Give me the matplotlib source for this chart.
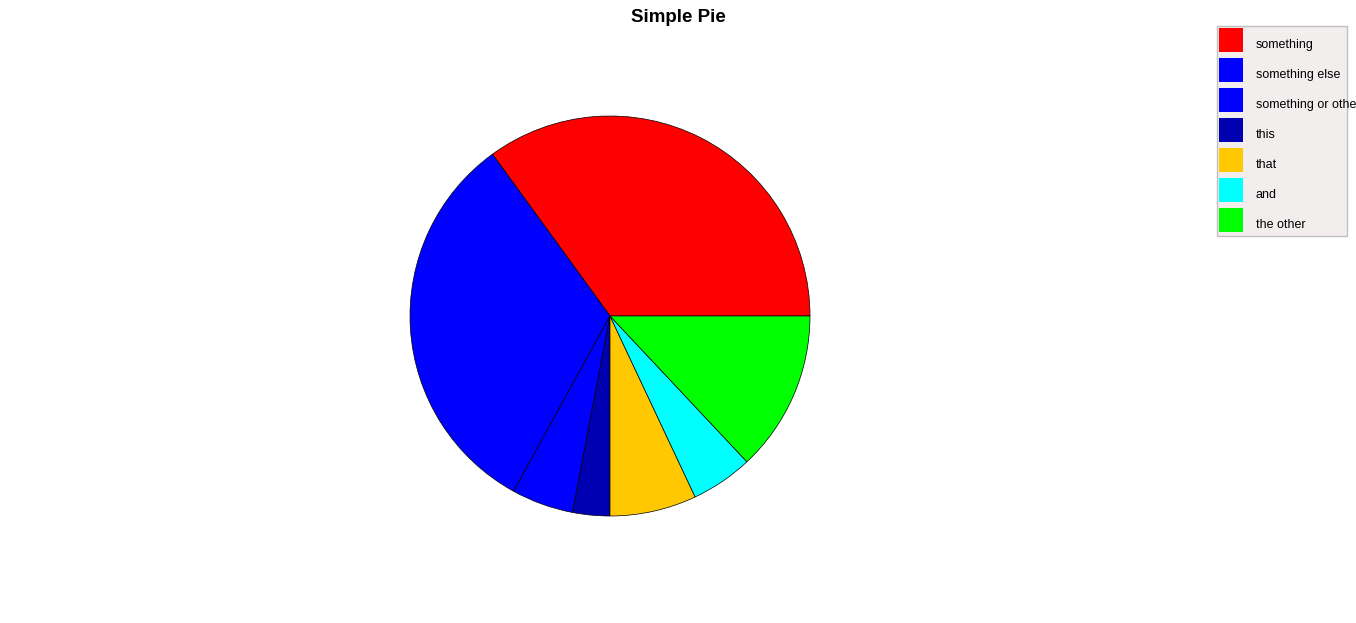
import matplotlib
matplotlib.use("Agg")
import matplotlib.pyplot as plt
from matplotlib.patches import Patch, Rectangle
from matplotlib.legend_handler import HandlerPatch

plt.rcParams["font.family"] = ["Liberation Sans", "DejaVu Sans"]

labels = ["something", "something else", "something or other", "this", "that", "and", "the other"]
values = [35, 32, 5, 3, 7, 5, 13]
colors = ["#FF0000", "#0000FF", "#0000FF", "#0000B2", "#FFC800", "#00FFFF", "#00FF00"]

W, H = 1356, 623
fig = plt.figure(figsize=(W / 100, H / 100), dpi=100)

# square axes holding the pie, centre (610, 316) px, radius 200 px
cx, cy, r = 610, 316, 200
ax = fig.add_axes([(cx - r) / W, (H - cy - r) / H, 2 * r / W, 2 * r / H])
ax.pie(values, colors=colors, startangle=0, counterclock=True, radius=1,
       wedgeprops=dict(edgecolor="black", linewidth=0.5))
ax.set_xlim(-1, 1)
ax.set_ylim(-1, 1)
ax.axis("off")

fig.text(678 / W, 1 - 17 / H, "Simple Pie", ha="center", va="center",
         fontsize=13.5, fontweight="bold")

# legend frame (narrower than the longest label, as in the original)
fig.patches.append(Rectangle((1216.5 / W, 1 - 235.5 / H), 130 / W, 210 / H,
                             transform=fig.transFigure, facecolor="#F2EEEE",
                             edgecolor="#C0C0C0", linewidth=1, zorder=0))


class SquareHandler(HandlerPatch):
    # 24 px square swatch, text baseline ~4 px above its bottom edge
    def _create_patch(self, legend, orig_handle, xdescent, ydescent,
                      width, height, fontsize):
        return Rectangle((-xdescent, -ydescent), width, 17.28)


handles = [Patch(facecolor=c, edgecolor="none") for c in colors]
fig.legend(handles, labels, loc="upper left",
           bbox_to_anchor=(1219 / W, 1 - 35.8 / H),
           frameon=False, fontsize=9, borderpad=0, borderaxespad=0,
           handlelength=1.92, handleheight=1.614, labelspacing=1.105,
           handletextpad=1.0, handler_map={Patch: SquareHandler()})

fig.savefig("out.png", dpi=100)
